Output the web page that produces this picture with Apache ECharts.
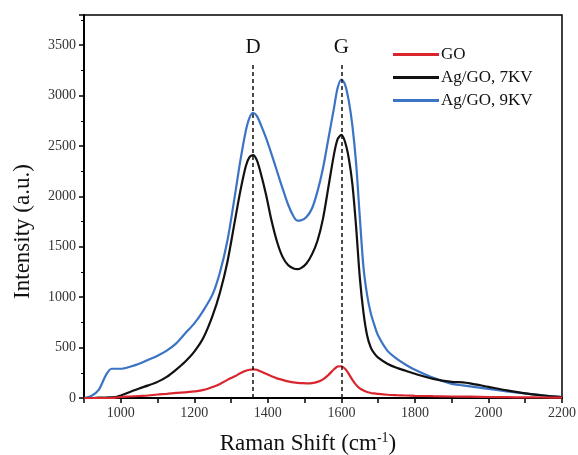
<!DOCTYPE html>
<html>
<head>
<meta charset="utf-8">
<script src="https://cdn.jsdelivr.net/npm/echarts@6/dist/echarts.min.js"></script>
<style>
  html, body { margin: 0; padding: 0; background: #fff; }
  #chart { width: 578px; height: 455px; }
</style>
</head>
<body>
<div id="chart"></div>
<script>
// Raman shift (cm-1)
var shift = [900, 920, 940, 960, 975, 990, 1000, 1025, 1050, 1075, 1100, 1125, 1150, 1175, 1200, 1225, 1250, 1270, 1290, 1310,
  1325, 1340, 1350, 1360, 1370, 1380, 1395, 1410, 1425, 1440, 1455, 1470, 1480, 1490, 1505, 1520, 1535, 1550, 1565, 1580,
  1590, 1600, 1610, 1620, 1630, 1640, 1650, 1660, 1670, 1680, 1690, 1700, 1725, 1750, 1775, 1800, 1850, 1900, 1930, 1950,
  2000, 2050, 2100, 2150, 2200]

var goVals = [0, 0, 0, 0, 0, 5, 10, 15, 20, 25, 35, 40, 50, 55, 65, 80, 110, 140, 180, 215,
  245, 270, 280, 285, 280, 265, 240, 215, 195, 180, 165, 155, 150, 148, 146, 148, 160, 185, 230, 285,
  312, 315, 290, 240, 180, 130, 95, 75, 60, 50, 45, 40, 32, 28, 25, 22, 18, 15, 14, 13,
  10, 8, 6, 5, 3]

var ag7Vals = [0, 0, 3, 5, 6, 12, 25, 60, 95, 125, 160, 210, 280, 360, 460, 600, 820, 1050, 1350, 1750,
  2050, 2300, 2390, 2410, 2360, 2240, 2020, 1760, 1550, 1400, 1320, 1285, 1278, 1288, 1335, 1425, 1560, 1780, 2100, 2420,
  2570, 2610, 2540, 2380, 2120, 1700, 1200, 850, 620, 500, 440, 400, 340, 300, 270, 240, 190, 160, 155, 145,
  110, 75, 45, 25, 10]

var ag9Vals = [0, 20, 80, 230, 290, 290, 290, 310, 340, 380, 420, 470, 540, 640, 740, 870, 1030, 1250, 1560, 2000,
  2350, 2650, 2780, 2830, 2800, 2720, 2580, 2420, 2250, 2080, 1920, 1800, 1760, 1762, 1795, 1880, 2050, 2280, 2580, 2880,
  3080, 3160, 3110, 2950, 2700, 2330, 1800, 1300, 1020, 840, 720, 620, 470, 390, 330, 280, 200, 140, 125, 115,
  90, 65, 45, 25, 10]

var peaks = [
  { name: 'D', x: 1360 },
  { name: 'G', x: 1600 }
]
var peakTop = 3330

var serif = '"Liberation Serif", "DejaVu Serif", serif'

function pairs (ys) {
  var out = []
  for (var i = 0; i < shift.length; i++) {
    out.push([shift[i], ys[i]])
  }
  return out
}

var myChart = echarts.init(document.getElementById('chart'))

var option = {
  backgroundColor: '#fff',
  animation: false,
  grid: {
    left: 84,
    right: 16,
    top: 15,
    bottom: 57,
    outerBoundsMode: 'none',
    show: true,
    borderColor: '#000',
    borderWidth: 1.5
  },
  legend: {
    orient: 'vertical',
    left: 388,
    top: 41,
    icon: 'rect',
    itemWidth: 46,
    itemHeight: 3,
    itemGap: 6,
    textStyle: { fontFamily: serif, fontSize: 17, color: '#111', lineHeight: 17, padding: [0, 0, 0, -3] },
    data: ['GO', 'Ag/GO, 7KV', 'Ag/GO, 9KV']
  },
  xAxis: {
    type: 'value',
    min: 900,
    max: 2200,
    interval: 100,
    name: 'Raman Shift (cm{sup|-1})',
    nameLocation: 'middle',
    nameGap: 33,
    nameTextStyle: {
      fontFamily: serif,
      fontSize: 23,
      color: '#111',
      padding: [0, 30, 0, 0],
      rich: {
        sup: { fontFamily: serif, fontSize: 14, color: '#111', verticalAlign: 'top', padding: [0, 0, 12, 0] }
      }
    },
    axisLine: { lineStyle: { color: '#000', width: 2 } },
    axisTick: { inside: false, length: 5, lineStyle: { color: '#000', width: 1.5 } },
    axisLabel: {
      fontFamily: serif,
      fontSize: 14,
      color: '#333',
      margin: 8,
      formatter: function (v) { return v % 200 === 0 ? String(v) : '' }
    },
    splitLine: { show: false }
  },
  yAxis: {
    type: 'value',
    min: 0,
    max: 3800,
    interval: 500,
    name: 'Intensity (a.u.)',
    nameLocation: 'middle',
    nameGap: 50,
    nameTextStyle: { fontFamily: serif, fontSize: 23, color: '#111', padding: [0, 50, 0, 0] },
    axisLine: { show: true, lineStyle: { color: '#000', width: 2 } },
    axisTick: { show: true, length: 5, lineStyle: { color: '#000', width: 1.5 } },
    minorTick: { show: true, splitNumber: 2, length: 3, lineStyle: { color: '#000', width: 1 } },
    axisLabel: {
      fontFamily: serif,
      fontSize: 14,
      color: '#333',
      margin: 8,
      formatter: function (v) { return v % 500 === 0 ? String(v) : '' }
    },
    splitLine: { show: false }
  },
  series: [
    {
      name: 'GO',
      type: 'line',
      data: pairs(goVals),
      smooth: 0.3,
      showSymbol: false,
      color: '#d9262e',
      lineStyle: { width: 2.2, color: '#d9262e' },
      z: 3
    },
    {
      name: 'Ag/GO, 7KV',
      type: 'line',
      data: pairs(ag7Vals),
      smooth: 0.3,
      showSymbol: false,
      color: '#111',
      lineStyle: { width: 2.2, color: '#111' },
      z: 2,
      markLine: {
        silent: true,
        symbol: ['none', 'none'],
        lineStyle: { type: [4, 3], color: '#111', width: 1.5 },
        label: { show: true, position: 'end', distance: 4, fontFamily: serif, fontSize: 21, color: '#111', formatter: '{b}' },
        data: peaks.map(function (p) {
          return [{ name: p.name, coord: [p.x, 0] }, { coord: [p.x, peakTop] }]
        })
      }
    },
    {
      name: 'Ag/GO, 9KV',
      type: 'line',
      data: pairs(ag9Vals),
      smooth: 0.3,
      showSymbol: false,
      color: '#3b74c4',
      lineStyle: { width: 2.2, color: '#3b74c4' },
      z: 1
    }
  ]
}

myChart.setOption(option)
</script>
</body>
</html>
